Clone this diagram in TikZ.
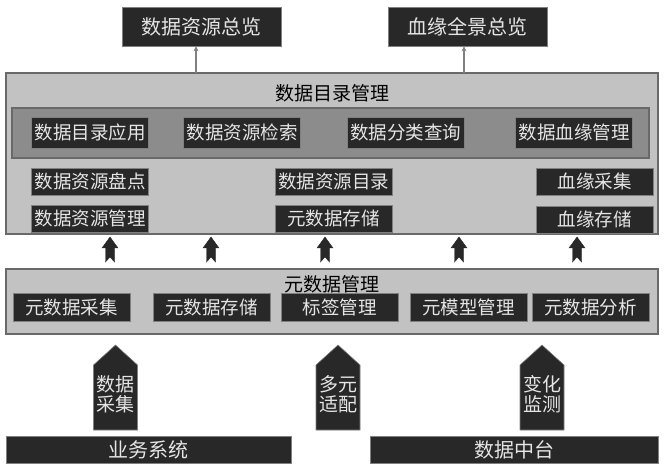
\documentclass[tikz,border=0pt]{standalone}
\usepackage{fontspec}
\newfontfamily\cjk{Noto Sans CJK SC}
\usetikzlibrary{arrows.meta}
\definecolor{boxdark}{RGB}{40,40,40}
\definecolor{panelgray}{RGB}{194,194,194}
\definecolor{bandgray}{RGB}{140,140,140}
\definecolor{edgegray}{RGB}{105,105,105}
\definecolor{linkgray}{RGB}{128,128,128}

\begin{document}
\begin{tikzpicture}[x=1pt,y=-1pt,
    darkbox/.style={fill=boxdark,draw=linkgray,line width=0.6pt,text=white!90!black,inner sep=0pt,
      minimum width=117pt,minimum height=28pt,font=\cjk\fontsize{18.5}{18.5}\selectfont},
    panel/.style={fill=panelgray,draw=edgegray,line width=1.6pt,inner sep=0pt},
    title/.style={font=\cjk\fontsize{19}{19}\selectfont,inner sep=0pt},
    bigtxt/.style={text=white!90!black,align=center,inner sep=0pt,font=\cjk\fontsize{19}{20}\selectfont}]
                \useasboundingbox (0,0) rectangle (665,468);
                % top overviews
                \node[darkbox,minimum width=159pt,minimum height=39pt,font=\cjk\fontsize{20}{20}\selectfont] (ovRes) at (201.5,26.5) {数据资源总览};
                \node[darkbox,minimum width=159pt,minimum height=39pt,font=\cjk\fontsize{20}{20}\selectfont] (ovLin) at (467.5,26.5) {血缘全景总览};
                % catalog layer
                \node[panel,minimum width=652pt,minimum height=161pt] (catalog) at (332,153.5) {};
                \node[title] (catTitle) at (332,93) {数据目录管理};
                \node[panel,fill=bandgray,line width=1.4pt,minimum width=637pt,minimum height=50pt] (band) at (330.5,133) {};
                \node[darkbox,minimum height=31pt] (app) at (90,132.5) {数据目录应用};
                \node[darkbox,minimum height=31pt] (search) at (242,132.5) {数据资源检索};
                \node[darkbox,minimum height=31pt] (classify) at (405.5,132.5) {数据分类查询};
                \node[darkbox,minimum height=31pt] (linMgmt) at (574,132.5) {数据血缘管理};
                \node[darkbox,minimum height=27pt] (inventory) at (90,181.5) {数据资源盘点};
                \node[darkbox,minimum height=27pt] (resCat) at (333.5,181.5) {数据资源目录};
                \node[darkbox,minimum height=27pt] (linCollect) at (594.5,181.5) {血缘采集};
                \node[darkbox,minimum height=27pt] (resMgmt) at (90,218.5) {数据资源管理};
                \node[darkbox,minimum height=27pt] (metaStoreA) at (333.5,218.5) {元数据存储};
                \node[darkbox,minimum height=27pt] (linStore) at (594.5,219.5) {血缘存储};
                % links to overviews
                \coordinate (upA) at (196,73);
                \coordinate (upB) at (464,73);
                \draw[linkgray,line width=1.4pt,-{Stealth[length=5pt,width=5pt]}] (upA) -- (upA |- ovRes.south);
                \draw[linkgray,line width=1.4pt,-{Stealth[length=5pt,width=5pt]}] (upB) -- (upB |- ovLin.south);
                % small up arrows
                \foreach \x in {110,211,325,459,577} {
                    \filldraw[boxdark] (\x,237) -- ++(8,11) -- ++(-3.5,0) -- ++(0,14) -- ++(-4.5,-5) -- ++(-4.5,5) -- ++(0,-14) -- ++(-3.5,0) -- cycle;
                }
                % metadata layer
                \node[panel,minimum width=652pt,minimum height=65pt] (meta) at (332,301.5) {};
                \node[title] (metaTitle) at (332,284) {元数据管理};
                \node[darkbox] (mCollect) at (71.5,307) {元数据采集};
                \node[darkbox] (mStore) at (211.5,307) {元数据存储};
                \node[darkbox] (tagMgmt) at (339.5,307) {标签管理};
                \node[darkbox] (modelMgmt) at (468.5,307) {元模型管理};
                \node[darkbox] (mAnalyze) at (590.5,307) {元数据分析};
                % big arrows
                \foreach \x/\nm/\txt in {115.5/collect/{数据\\采集},338/adapt/{多元\\适配},542/monitor/{变化\\监测}} {
                    \filldraw[fill=boxdark,draw=linkgray,line width=0.6pt] (\x,345) -- (\x+22,365) -- (\x+22,430) -- (\x-22,430) -- (\x-22,365) -- cycle;
                    \node[bigtxt] (\nm) at (\x,394) {\txt};
                }
                % sources
                \node[darkbox,minimum width=285pt,minimum height=27pt,font=\cjk\fontsize{20}{20}\selectfont] (bizSys) at (148.5,449.5) {业务系统};
                \node[darkbox,minimum width=288pt,minimum height=27pt,font=\cjk\fontsize{20}{20}\selectfont] (dataHub) at (514,449.5) {数据中台};
            \end{tikzpicture}
\end{document}
